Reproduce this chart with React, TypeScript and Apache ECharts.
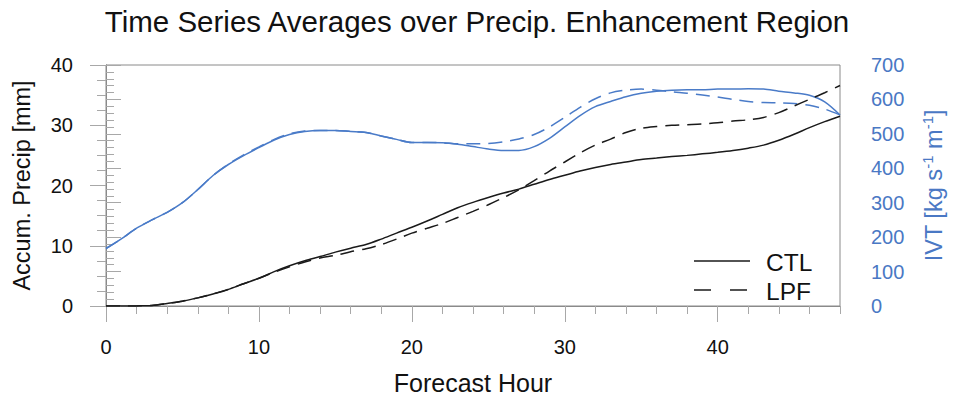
import React, { useEffect, useRef } from "react";
import * as echarts from "echarts";

const hours = [0, 1, 2, 3, 4, 5, 6, 7, 8, 9, 10, 11, 12, 13, 14, 15, 16, 17, 18, 19, 20, 21, 22, 23, 24, 25, 26, 27, 28, 29, 30, 31, 32, 33, 34, 35, 36, 37, 38, 39, 40, 41, 42, 43, 44, 45, 46, 47, 48];

const ctlPrecip = [0, 0, 0.02, 0.1, 0.43, 0.8, 1.35, 2.0, 2.76, 3.7, 4.6, 5.7, 6.67, 7.5, 8.2, 8.94, 9.6, 10.2, 11.1, 12.1, 13.06, 14.1, 15.2, 16.3, 17.2, 18.0, 18.75, 19.4, 20.2, 21.0, 21.7, 22.4, 23.0, 23.5, 23.9, 24.3, 24.55, 24.8, 25.0, 25.25, 25.5, 25.8, 26.2, 26.7, 27.5, 28.5, 29.6, 30.6, 31.5];
const lpfPrecip = [0, 0, 0.02, 0.1, 0.43, 0.8, 1.35, 2.0, 2.76, 3.7, 4.6, 5.6, 6.5, 7.3, 7.97, 8.4, 9.0, 9.5, 10.2, 11.1, 12.1, 12.9, 13.7, 14.7, 15.7, 16.8, 18.0, 19.3, 20.8, 22.4, 23.9, 25.4, 26.7, 27.7, 28.8, 29.5, 29.8, 30.0, 30.1, 30.2, 30.4, 30.7, 30.9, 31.3, 32.1, 33.2, 34.3, 35.4, 36.6];
const ctlIVT = [167, 195, 226, 250, 272, 300, 338, 379, 411, 437, 460, 482, 498, 507, 510, 510, 507, 504, 494, 484, 475, 475, 474, 470, 463, 456, 452, 452, 463, 487, 520, 553, 579, 594, 608, 618, 624, 627, 628, 628, 630, 630, 631, 630, 624, 619, 612, 593, 555];
const lpfIVT = [167, 195, 226, 250, 272, 300, 338, 379, 412, 439, 462, 484, 500, 508, 510, 510, 507, 504, 494, 484, 475, 475, 474, 471, 471, 472, 477, 485, 498, 520, 548, 577, 602, 619, 627, 630, 627, 622, 618, 613, 607, 600, 594, 591, 590, 588, 583, 572, 555];

const xMajorTicks = [0, 10, 20, 30, 40];
const legendNames = ["CTL", "LPF"];

const FONT = "'Liberation Sans', Arial, Helvetica, sans-serif";
const BLUE = "#4a7bc8";
const BLUE_TEXT = "#4a78c4";
const BLACK = "#1a1a1a";
const FRAME = "#8a8a8a";
const TICK = "#a8a8a8";

export default function App() {
  const ref = useRef<HTMLDivElement>(null);
  useEffect(() => {
    document.body.style.margin = "0";
    const chart = echarts.init(ref.current!, null, { renderer: "svg" });
    const pair = (ys: number[]) => hours.map((h, i) => [h, ys[i]]);
    const option: any = {
      animation: false,
      backgroundColor: "#ffffff",
      title: {
        text: "Time Series Averages over Precip. Enhancement Region",
        left: "center",
        top: 1,
        textStyle: { fontFamily: FONT, fontSize: 29.5, fontWeight: "normal", color: "#111" },
      },
      grid: {
        left: 106,
        right: 113,
        top: 65,
        bottom: 89,
        show: true,
        borderColor: FRAME,
        borderWidth: 1,
        backgroundColor: "transparent",
      },
      xAxis: [
        {
          type: "value",
          min: 0,
          max: 48,
          interval: 10,
          position: "bottom",
          name: "Forecast Hour",
          nameLocation: "middle",
          nameGap: 64,
          nameTextStyle: { fontFamily: FONT, fontSize: 25, color: "#111" },
          axisLine: { show: true, lineStyle: { color: FRAME, width: 1 } },
          axisTick: { show: true, inside: false, length: 16, lineStyle: { color: TICK }, customValues: xMajorTicks },
          axisLabel: { show: true, margin: 31, fontFamily: FONT, fontSize: 20, color: "#111", customValues: xMajorTicks },
          splitLine: { show: false },
        },
        {
          type: "value",
          min: 0,
          max: 48,
          interval: 2,
          position: "bottom",
          axisLine: { show: false },
          axisTick: { show: true, inside: false, length: 8, lineStyle: { color: TICK } },
          axisLabel: { show: false },
          splitLine: { show: false },
        },
      ],
      yAxis: [
        {
          type: "value",
          min: 0,
          max: 40,
          interval: 10,
          position: "left",
          name: "Accum. Precip [mm]",
          nameLocation: "middle",
          nameRotate: 90,
          nameGap: 72,
          nameTextStyle: { fontFamily: FONT, fontSize: 23.5, color: "#111" },
          axisLine: { show: true, lineStyle: { color: FRAME, width: 1 } },
          axisTick: { show: true, inside: false, length: 16, lineStyle: { color: TICK } },
          minorTick: { show: true, splitNumber: 4, length: 9, lineStyle: { color: TICK } },
          axisLabel: { margin: 33, fontFamily: FONT, fontSize: 20, color: "#111" },
          splitLine: { show: false },
        },
        {
          type: "value",
          min: 0,
          max: 700,
          interval: 100,
          position: "right",
          name: "{a|IVT [kg s}{b|-1}{a| m}{b|-1}{a|]}",
          nameLocation: "middle",
          nameRotate: 90,
          nameGap: 80,
          nameTextStyle: {
            fontFamily: FONT,
            fontSize: 23.5,
            color: BLUE_TEXT,
            rich: {
              a: { fontFamily: FONT, fontSize: 23.5, color: BLUE_TEXT, lineHeight: 26, verticalAlign: "bottom" },
              b: { fontFamily: FONT, fontSize: 15, color: BLUE_TEXT, lineHeight: 26, verticalAlign: "top" },
            },
          },
          axisLine: { show: true, lineStyle: { color: FRAME, width: 1 } },
          axisTick: { show: true, inside: false, length: 15, lineStyle: { color: TICK } },
          minorTick: { show: true, splitNumber: 5, length: 8, lineStyle: { color: TICK } },
          axisLabel: { margin: 31, fontFamily: FONT, fontSize: 20, color: BLUE_TEXT },
          splitLine: { show: false },
        },
      ],
      series: [
        {
          name: legendNames[0] + " IVT",
          type: "line",
          xAxisIndex: 0,
          yAxisIndex: 1,
          data: pair(ctlIVT),
          showSymbol: false,
          smooth: 0.3,
          lineStyle: { color: BLUE, width: 1.5, type: "solid" },
        },
        {
          name: legendNames[1] + " IVT",
          type: "line",
          xAxisIndex: 0,
          yAxisIndex: 1,
          data: pair(lpfIVT),
          showSymbol: false,
          smooth: 0.3,
          lineStyle: { color: BLUE, width: 1.5, type: [14, 8] },
        },
        {
          name: legendNames[0],
          type: "line",
          xAxisIndex: 0,
          yAxisIndex: 0,
          data: pair(ctlPrecip),
          showSymbol: false,
          smooth: 0.3,
          lineStyle: { color: BLACK, width: 1.5, type: "solid" },
        },
        {
          name: legendNames[1],
          type: "line",
          xAxisIndex: 0,
          yAxisIndex: 0,
          data: pair(lpfPrecip),
          showSymbol: false,
          smooth: 0.3,
          lineStyle: { color: BLACK, width: 1.5, type: [14, 8] },
        },
      ],
      graphic: [
        { type: "line", shape: { x1: 694, y1: 261, x2: 750, y2: 261 }, style: { stroke: BLACK, lineWidth: 1.5 } },
        { type: "text", x: 766, y: 262, style: { text: legendNames[0], font: `24.5px ${FONT}`, fill: "#111", verticalAlign: "middle", align: "left" } },
        { type: "line", shape: { x1: 694, y1: 290, x2: 750, y2: 290 }, style: { stroke: BLACK, lineWidth: 1.5, lineDash: [17, 19] } },
        { type: "text", x: 766, y: 291, style: { text: legendNames[1], font: `24.5px ${FONT}`, fill: "#111", verticalAlign: "middle", align: "left" } },
      ],
    };
    chart.setOption(option);
    return () => chart.dispose();
  }, []);
  return <div ref={ref} style={{ position: "fixed", left: 0, top: 0, width: 954, height: 400 }} />;
}
